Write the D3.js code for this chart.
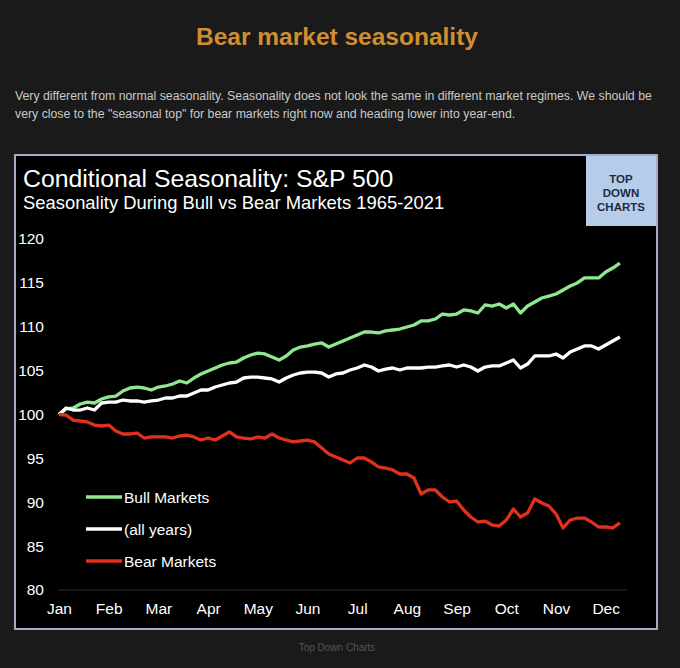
<!DOCTYPE html>
<html>
<head>
<meta charset="utf-8">
<script src="https://cdn.jsdelivr.net/npm/d3@7"></script>
<style>
  html, body { margin: 0; padding: 0; background: #1a1a1a; }
  svg { display: block; font-family: "Liberation Sans", Arial, sans-serif; }
</style>
</head>
<body>
<div id="chart"></div>
<script>
// month tick labels (one every 21 trading days)
const months = ["Jan", "Feb", "Mar", "Apr", "May", "Jun", "Jul", "Aug", "Sep", "Oct", "Nov", "Dec"];
const yTicks = [80, 85, 90, 95, 100, 105, 110, 115, 120];

// one reading every 3 trading days
const bull = [100.0, 100.63, 100.74, 101.2, 101.42, 101.31, 101.77, 102.0, 102.1, 102.68,
  103.02, 103.13, 103.02, 102.79, 103.13, 103.25, 103.48, 103.82, 103.59, 104.16,
  104.62, 104.96, 105.3, 105.64, 105.87, 105.98, 106.44, 106.78, 107.0, 106.9,
  106.55, 106.2, 106.67, 107.35, 107.69, 107.81, 108.03, 108.15, 107.69, 108.03,
  108.38, 108.72, 109.06, 109.4, 109.4, 109.29, 109.52, 109.63, 109.74, 109.97,
  110.2, 110.66, 110.66, 110.88, 111.45, 111.34, 111.45, 111.91, 111.8, 111.57,
  112.48, 112.36, 112.59, 112.14, 112.59, 111.57, 112.36, 112.82, 113.28, 113.5,
  113.73, 114.19, 114.64, 114.99, 115.56, 115.56, 115.56, 116.24, 116.69, 117.26];

const allYears = [100.0, 100.74, 100.51, 100.51, 100.74, 100.51, 101.31, 101.42, 101.42, 101.65,
  101.54, 101.54, 101.42, 101.54, 101.65, 101.88, 101.88, 102.11, 102.11, 102.45,
  102.79, 102.79, 103.13, 103.36, 103.59, 103.7, 104.16, 104.27, 104.27, 104.16,
  104.05, 103.7, 104.16, 104.5, 104.73, 104.84, 104.84, 104.73, 104.27, 104.62,
  104.73, 105.07, 105.3, 105.64, 105.41, 104.96, 105.18, 105.3, 105.07, 105.3,
  105.3, 105.3, 105.41, 105.41, 105.53, 105.64, 105.41, 105.64, 105.41, 104.96,
  105.41, 105.53, 105.53, 105.87, 106.21, 105.3, 105.75, 106.67, 106.67, 106.67,
  106.89, 106.44, 107.12, 107.46, 107.81, 107.81, 107.46, 107.92, 108.38, 108.83];

const bear = [100.0, 99.94, 99.37, 99.26, 99.15, 98.8, 98.69, 98.8, 98.12, 97.78,
  97.78, 97.89, 97.32, 97.44, 97.44, 97.44, 97.32, 97.55, 97.66, 97.44,
  97.09, 97.32, 97.09, 97.55, 98.01, 97.44, 97.32, 97.21, 97.44, 97.32,
  97.78, 97.32, 97.09, 96.87, 96.98, 97.09, 96.87, 96.18, 95.5, 95.16,
  94.81, 94.47, 95.04, 95.04, 94.59, 94.02, 93.9, 93.68, 93.22, 93.22,
  92.76, 90.94, 91.4, 91.4, 90.6, 90.03, 90.14, 89.12, 88.32, 87.75,
  87.86, 87.41, 87.29, 87.98, 89.23, 88.32, 88.77, 90.37, 89.91, 89.57,
  88.66, 87.07, 87.98, 88.2, 88.2, 87.75, 87.18, 87.18, 87.07, 87.64];

const seriesNames = ["Bull Markets", "(all years)", "Bear Markets"];
const seriesColors = ["#8fe88f", "#ffffff", "#e0301e"];

const W = 680, H = 668;
const box = { x: 15, y: 155, w: 642, h: 474 };

const svg = d3.select("#chart")
  .append("svg")
  .attr("width", W)
  .attr("height", H);

// page header
svg.append("text")
  .attr("x", 337)
  .attr("y", 45)
  .attr("text-anchor", "middle")
  .attr("fill", "#cf8e32")
  .attr("font-weight", "bold")
  .attr("font-size", "24.5px")
  .text("Bear market seasonality");

const desc = [
  "Very different from normal seasonality. Seasonality does not look the same in different market regimes. We should be",
  "very close to the \"seasonal top\" for bear markets right now and heading lower into year-end."
];
svg.selectAll(".desc")
  .data(desc)
  .enter().append("text")
  .attr("class", "desc")
  .attr("x", 15)
  .attr("y", (d, i) => 100 + i * 18)
  .attr("fill", "#c9c9c9")
  .attr("font-size", "12.3px")
  .text(d => d);

// chart frame
svg.append("rect")
  .attr("x", box.x)
  .attr("y", box.y)
  .attr("width", box.w)
  .attr("height", box.h)
  .attr("fill", "#000")
  .attr("stroke", "#a3aacb")
  .attr("stroke-width", 2);

// logo
svg.append("rect")
  .attr("x", 586)
  .attr("y", 156)
  .attr("width", 70)
  .attr("height", 70)
  .attr("fill", "#b6cdea");

svg.selectAll(".logo")
  .data(["TOP", "DOWN", "CHARTS"])
  .enter().append("text")
  .attr("class", "logo")
  .attr("x", 621)
  .attr("y", (d, i) => 183 + i * 14)
  .attr("text-anchor", "middle")
  .attr("fill", "#1d2b42")
  .attr("font-weight", "bold")
  .attr("font-size", "11.5px")
  .text(d => d);

svg.append("text")
  .attr("x", 23)
  .attr("y", 187)
  .attr("fill", "#fff")
  .attr("font-size", "24.8px")
  .text("Conditional Seasonality: S&P 500");

svg.append("text")
  .attr("x", 23)
  .attr("y", 209)
  .attr("fill", "#fff")
  .attr("font-size", "18.4px")
  .text("Seasonality During Bull vs Bear Markets 1965-2021");

// scales
const xScale = d3.scaleLinear()
  .domain([0, 231])
  .range([59, 605.7]);

const yScale = d3.scaleLinear()
  .domain([80, 120])
  .range([590, 239]);

// baseline
svg.append("line")
  .attr("x1", 58)
  .attr("x2", 627)
  .attr("y1", yScale(80))
  .attr("y2", yScale(80))
  .attr("stroke", "#2e2e2e")
  .attr("stroke-width", 1);

const yAxis = svg.append("g")
  .attr("transform", "translate(44,0)")
  .call(d3.axisLeft(yScale).tickValues(yTicks).tickSize(0).tickPadding(0));
yAxis.select(".domain").remove();
yAxis.selectAll("text")
  .attr("fill", "#fff")
  .attr("font-size", "15.5px")
  .attr("font-family", "Liberation Sans, Arial, sans-serif");

const xAxis = svg.append("g")
  .attr("transform", "translate(0,603)")
  .call(d3.axisBottom(xScale)
    .tickValues(months.map((m, i) => i * 21))
    .tickFormat((d, i) => months[i])
    .tickSize(0).tickPadding(0));
xAxis.select(".domain").remove();
xAxis.selectAll("text")
  .attr("fill", "#fff")
  .attr("font-size", "15.5px")
  .attr("font-family", "Liberation Sans, Arial, sans-serif");

// lines (trading day = index * 3)
const line = d3.line()
  .x((d, i) => xScale(i * 3))
  .y(d => yScale(d));

[bull, allYears, bear].forEach((s, k) => {
  svg.append("path")
    .datum(s)
    .attr("fill", "none")
    .attr("stroke", seriesColors[k])
    .attr("stroke-width", 3.3)
    .attr("stroke-linejoin", "round")
    .attr("d", line);
});

// legend
const legend = svg.selectAll(".legend")
  .data(seriesNames)
  .enter().append("g")
  .attr("class", "legend")
  .attr("transform", (d, i) => `translate(86, ${497 + i * 32})`);

legend.append("line")
  .attr("x1", 0)
  .attr("x2", 36)
  .attr("stroke", (d, i) => seriesColors[i])
  .attr("stroke-width", 3.3);

legend.append("text")
  .attr("x", 38)
  .attr("y", 5.5)
  .attr("fill", "#fff")
  .attr("font-size", "15.5px")
  .text(d => d);

// footer
svg.append("text")
  .attr("x", 337)
  .attr("y", 651)
  .attr("text-anchor", "middle")
  .attr("fill", "#555")
  .attr("font-size", "10px")
  .text("Top Down Charts");
</script>
</body>
</html>
